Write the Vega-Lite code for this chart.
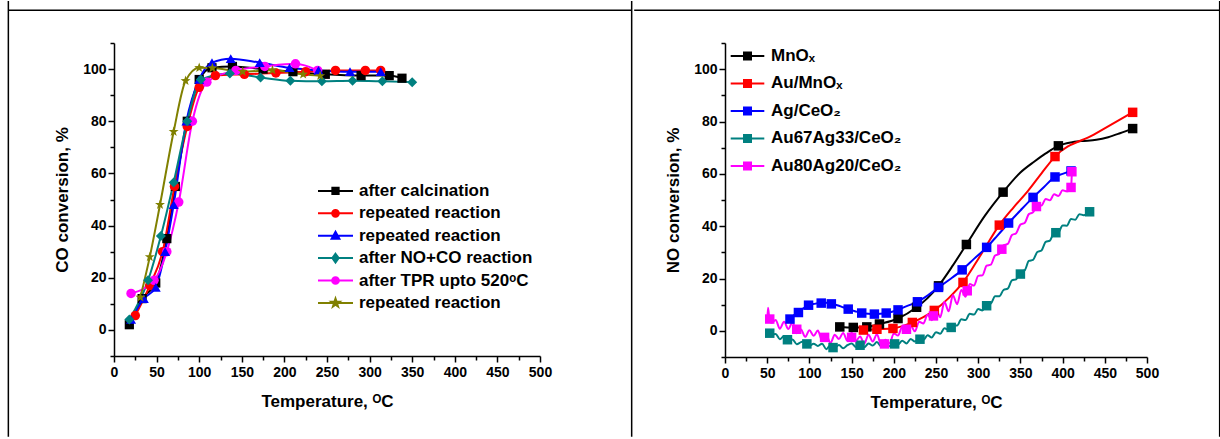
{
"$schema": "https://vega.github.io/schema/vega-lite/v6.json",
"padding": {"left": 7, "top": 0, "right": 0, "bottom": 0},
"spacing": 0,
"background": "white",
"datasets": {
"frameL": [
{"x": -124, "y": 122.58, "x2": 607.6, "y2": 122.58},
{"x": -124, "y": 126.12, "x2": -124, "y2": -40.94},
{"x": 607.6, "y": 126.12, "x2": 607.6, "y2": -40.94}
],
"frameR": [
{"x": -107.6, "y": 122.53, "x2": 586.1, "y2": 122.53},
{"x": 586.1, "y": 126.07, "x2": 586.1, "y2": -40.46}
],
"co": [
{"s":"after calcination","t":18,"v":2},{"s":"after calcination","t":33,"v":12},{"s":"after calcination","t":49,"v":18},{"s":"after calcination","t":62,"v":35},{"s":"after calcination","t":72,"v":55},{"s":"after calcination","t":86,"v":80},{"s":"after calcination","t":100,"v":96},{"s":"after calcination","t":115,"v":100.5},{"s":"after calcination","t":139,"v":101},{"s":"after calcination","t":175,"v":100},{"s":"after calcination","t":210,"v":99},{"s":"after calcination","t":248,"v":98},{"s":"after calcination","t":290,"v":97.5},{"s":"after calcination","t":323,"v":97.5},{"s":"after calcination","t":338,"v":96.5},
{"s":"repeated reaction","t":25,"v":5.5},{"s":"repeated reaction","t":42,"v":17},{"s":"repeated reaction","t":57,"v":30},{"s":"repeated reaction","t":71,"v":55},{"s":"repeated reaction","t":86,"v":78},{"s":"repeated reaction","t":100,"v":93},{"s":"repeated reaction","t":119,"v":97.5},{"s":"repeated reaction","t":153,"v":98},{"s":"repeated reaction","t":190,"v":98.5},{"s":"repeated reaction","t":225,"v":99},{"s":"repeated reaction","t":260,"v":99.5},{"s":"repeated reaction","t":295,"v":99.5},{"s":"repeated reaction","t":313,"v":99.5},
{"s":"repeated reaction ","t":20,"v":4},{"s":"repeated reaction ","t":35,"v":12},{"s":"repeated reaction ","t":49,"v":16.3},{"s":"repeated reaction ","t":60,"v":30},{"s":"repeated reaction ","t":70,"v":48},{"s":"repeated reaction ","t":85,"v":80},{"s":"repeated reaction ","t":100,"v":96},{"s":"repeated reaction ","t":115,"v":102.5},{"s":"repeated reaction ","t":137,"v":104},{"s":"repeated reaction ","t":171,"v":102.5},{"s":"repeated reaction ","t":206,"v":100.5},{"s":"repeated reaction ","t":240,"v":99.5},{"s":"repeated reaction ","t":277,"v":99},{"s":"repeated reaction ","t":313,"v":99},
{"s":"after NO+CO reaction","t":18,"v":4},{"s":"after NO+CO reaction","t":40,"v":19},{"s":"after NO+CO reaction","t":55,"v":36},{"s":"after NO+CO reaction","t":70,"v":56.5},{"s":"after NO+CO reaction","t":86,"v":80},{"s":"after NO+CO reaction","t":102,"v":96},{"s":"after NO+CO reaction","t":136,"v":98.3},{"s":"after NO+CO reaction","t":172,"v":96.8},{"s":"after NO+CO reaction","t":207,"v":95.5},{"s":"after NO+CO reaction","t":244,"v":95.3},{"s":"after NO+CO reaction","t":280,"v":95.5},{"s":"after NO+CO reaction","t":315,"v":95.3},{"s":"after NO+CO reaction","t":350,"v":95},
{"s":"after TPR upto 520ᵒC","t":20,"v":14},{"s":"after TPR upto 520ᵒC","t":47,"v":19},{"s":"after TPR upto 520ᵒC","t":62,"v":30},{"s":"after TPR upto 520ᵒC","t":76,"v":49},{"s":"after TPR upto 520ᵒC","t":92,"v":80},{"s":"after TPR upto 520ᵒC","t":109,"v":95},{"s":"after TPR upto 520ᵒC","t":143,"v":99.5},{"s":"after TPR upto 520ᵒC","t":177,"v":101},{"s":"after TPR upto 520ᵒC","t":213,"v":102},{"s":"after TPR upto 520ᵒC","t":239,"v":99.5},
{"s":"repeated reaction  ","t":31,"v":12.5},{"s":"repeated reaction  ","t":42,"v":28},{"s":"repeated reaction  ","t":54,"v":48},{"s":"repeated reaction  ","t":70,"v":76},{"s":"repeated reaction  ","t":84,"v":95.5},{"s":"repeated reaction  ","t":100,"v":100.5},{"s":"repeated reaction  ","t":115.5,"v":100.4},{"s":"repeated reaction  ","t":151,"v":99},{"s":"repeated reaction  ","t":186,"v":99.6},{"s":"repeated reaction  ","t":222,"v":98},{"s":"repeated reaction  ","t":242,"v":97.4}
],
"noLine": [
{"s":"MnOₓ","t":136,"v":1.5},{"s":"MnOₓ","t":152,"v":1.3},{"s":"MnOₓ","t":168,"v":1.5},{"s":"MnOₓ","t":183,"v":2.6},{"s":"MnOₓ","t":205,"v":4.7},{"s":"MnOₓ","t":227,"v":9},{"s":"MnOₓ","t":240,"v":12.5},{"s":"MnOₓ","t":253,"v":17.2},{"s":"MnOₓ","t":270,"v":25},{"s":"MnOₓ","t":286,"v":33},{"s":"MnOₓ","t":308,"v":44},{"s":"MnOₓ","t":329.5,"v":53},{"s":"MnOₓ","t":350,"v":60.5},{"s":"MnOₓ","t":367,"v":64.8},{"s":"MnOₓ","t":380,"v":67.8},{"s":"MnOₓ","t":395,"v":70.7},{"s":"MnOₓ","t":410,"v":72},{"s":"MnOₓ","t":422,"v":72.5},{"s":"MnOₓ","t":440,"v":73},{"s":"MnOₓ","t":454,"v":74},{"s":"MnOₓ","t":468,"v":75.5},{"s":"MnOₓ","t":483,"v":77.3},
{"s":"Au/MnOₓ","t":160,"v":0},{"s":"Au/MnOₓ","t":164,"v":0.3},{"s":"Au/MnOₓ","t":180,"v":0.6},{"s":"Au/MnOₓ","t":199,"v":0.9},{"s":"Au/MnOₓ","t":210,"v":1.8},{"s":"Au/MnOₓ","t":222,"v":3.2},{"s":"Au/MnOₓ","t":235,"v":5.2},{"s":"Au/MnOₓ","t":248,"v":7.8},{"s":"Au/MnOₓ","t":265,"v":12.5},{"s":"Au/MnOₓ","t":282,"v":18.5},{"s":"Au/MnOₓ","t":303,"v":29},{"s":"Au/MnOₓ","t":325,"v":40.4},{"s":"Au/MnOₓ","t":342,"v":47.2},{"s":"Au/MnOₓ","t":359,"v":53.5},{"s":"Au/MnOₓ","t":375,"v":60.2},{"s":"Au/MnOₓ","t":391,"v":66.6},{"s":"Au/MnOₓ","t":437,"v":75},{"s":"Au/MnOₓ","t":483,"v":83.5},
{"s":"Ag/CeO₂","t":75,"v":3.8},{"s":"Ag/CeO₂","t":77,"v":4.5},{"s":"Ag/CeO₂","t":82,"v":6},{"s":"Ag/CeO₂","t":87,"v":7},{"s":"Ag/CeO₂","t":93,"v":8.6},{"s":"Ag/CeO₂","t":99,"v":9.8},{"s":"Ag/CeO₂","t":106,"v":10.3},{"s":"Ag/CeO₂","t":114,"v":10.6},{"s":"Ag/CeO₂","t":120,"v":10.7},{"s":"Ag/CeO₂","t":126,"v":10.3},{"s":"Ag/CeO₂","t":133,"v":9.8},{"s":"Ag/CeO₂","t":140,"v":9},{"s":"Ag/CeO₂","t":146,"v":8.3},{"s":"Ag/CeO₂","t":154,"v":7.5},{"s":"Ag/CeO₂","t":162,"v":6.8},{"s":"Ag/CeO₂","t":170,"v":6.5},{"s":"Ag/CeO₂","t":177,"v":6.4},{"s":"Ag/CeO₂","t":184,"v":6.5},{"s":"Ag/CeO₂","t":191,"v":6.8},{"s":"Ag/CeO₂","t":198,"v":7.3},{"s":"Ag/CeO₂","t":205,"v":8},{"s":"Ag/CeO₂","t":211,"v":8.9},{"s":"Ag/CeO₂","t":220,"v":10},{"s":"Ag/CeO₂","t":228,"v":11.1},{"s":"Ag/CeO₂","t":240,"v":13.5},{"s":"Ag/CeO₂","t":253,"v":16.6},{"s":"Ag/CeO₂","t":267,"v":19.8},{"s":"Ag/CeO₂","t":281,"v":23.3},{"s":"Ag/CeO₂","t":295,"v":27.5},{"s":"Ag/CeO₂","t":310,"v":31.9},{"s":"Ag/CeO₂","t":323,"v":36.5},{"s":"Ag/CeO₂","t":336,"v":41.2},{"s":"Ag/CeO₂","t":350,"v":46},{"s":"Ag/CeO₂","t":365,"v":51},{"s":"Ag/CeO₂","t":378,"v":55},{"s":"Ag/CeO₂","t":391,"v":58.8},{"s":"Ag/CeO₂","t":400,"v":60},{"s":"Ag/CeO₂","t":410,"v":61.1},
{"s":"Au67Ag33/CeO₂","t":50,"v":0.5},{"s":"Au67Ag33/CeO₂","t":55,"v":-1.4},{"s":"Au67Ag33/CeO₂","t":60,"v":-1.2},{"s":"Au67Ag33/CeO₂","t":65,"v":-3.2},{"s":"Au67Ag33/CeO₂","t":70,"v":-2.0},{"s":"Au67Ag33/CeO₂","t":75,"v":-3.9},{"s":"Au67Ag33/CeO₂","t":80,"v":-3.3},{"s":"Au67Ag33/CeO₂","t":85,"v":-5.1},{"s":"Au67Ag33/CeO₂","t":90,"v":-4.3},{"s":"Au67Ag33/CeO₂","t":95,"v":-3.9},{"s":"Au67Ag33/CeO₂","t":100,"v":-5.8},{"s":"Au67Ag33/CeO₂","t":105,"v":-4.9},{"s":"Au67Ag33/CeO₂","t":110,"v":-5.8},{"s":"Au67Ag33/CeO₂","t":115,"v":-4.9},{"s":"Au67Ag33/CeO₂","t":120,"v":-7.0},{"s":"Au67Ag33/CeO₂","t":125,"v":-5.5},{"s":"Au67Ag33/CeO₂","t":130,"v":-6.4},{"s":"Au67Ag33/CeO₂","t":135,"v":-5.4},{"s":"Au67Ag33/CeO₂","t":140,"v":-6.7},{"s":"Au67Ag33/CeO₂","t":145,"v":-5.5},{"s":"Au67Ag33/CeO₂","t":150,"v":-4.8},{"s":"Au67Ag33/CeO₂","t":155,"v":-6.2},{"s":"Au67Ag33/CeO₂","t":160,"v":-5.1},{"s":"Au67Ag33/CeO₂","t":165,"v":-6.3},{"s":"Au67Ag33/CeO₂","t":170,"v":-4.8},{"s":"Au67Ag33/CeO₂","t":175,"v":-5.6},{"s":"Au67Ag33/CeO₂","t":180,"v":-4.3},{"s":"Au67Ag33/CeO₂","t":185,"v":-5.9},{"s":"Au67Ag33/CeO₂","t":190,"v":-4.6},{"s":"Au67Ag33/CeO₂","t":195,"v":-5.9},{"s":"Au67Ag33/CeO₂","t":200,"v":-4.4},{"s":"Au67Ag33/CeO₂","t":205,"v":-5.2},{"s":"Au67Ag33/CeO₂","t":210,"v":-3.8},{"s":"Au67Ag33/CeO₂","t":215,"v":-4.8},{"s":"Au67Ag33/CeO₂","t":220,"v":-3.1},{"s":"Au67Ag33/CeO₂","t":225,"v":-4.1},{"s":"Au67Ag33/CeO₂","t":230,"v":-3.0},{"s":"Au67Ag33/CeO₂","t":235,"v":-3.5},{"s":"Au67Ag33/CeO₂","t":240,"v":-1.7},{"s":"Au67Ag33/CeO₂","t":245,"v":-2.5},{"s":"Au67Ag33/CeO₂","t":250,"v":-0.5},{"s":"Au67Ag33/CeO₂","t":255,"v":-1.1},{"s":"Au67Ag33/CeO₂","t":260,"v":1.0},{"s":"Au67Ag33/CeO₂","t":265,"v":0.4},{"s":"Au67Ag33/CeO₂","t":270,"v":2.3},{"s":"Au67Ag33/CeO₂","t":275,"v":2.0},{"s":"Au67Ag33/CeO₂","t":280,"v":4.4},{"s":"Au67Ag33/CeO₂","t":285,"v":4.1},{"s":"Au67Ag33/CeO₂","t":290,"v":6.5},{"s":"Au67Ag33/CeO₂","t":295,"v":6.2},{"s":"Au67Ag33/CeO₂","t":300,"v":8.3},{"s":"Au67Ag33/CeO₂","t":305,"v":7.8},{"s":"Au67Ag33/CeO₂","t":310,"v":10.1},{"s":"Au67Ag33/CeO₂","t":315,"v":10.4},{"s":"Au67Ag33/CeO₂","t":320,"v":13.2},{"s":"Au67Ag33/CeO₂","t":325,"v":13.2},{"s":"Au67Ag33/CeO₂","t":330,"v":15.6},{"s":"Au67Ag33/CeO₂","t":335,"v":16.1},{"s":"Au67Ag33/CeO₂","t":340,"v":19.3},{"s":"Au67Ag33/CeO₂","t":345,"v":19.7},{"s":"Au67Ag33/CeO₂","t":350,"v":22.6},{"s":"Au67Ag33/CeO₂","t":355,"v":23.1},{"s":"Au67Ag33/CeO₂","t":360,"v":26.7},{"s":"Au67Ag33/CeO₂","t":365,"v":27.1},{"s":"Au67Ag33/CeO₂","t":370,"v":30.1},{"s":"Au67Ag33/CeO₂","t":375,"v":30.7},{"s":"Au67Ag33/CeO₂","t":380,"v":34.0},{"s":"Au67Ag33/CeO₂","t":385,"v":34.5},{"s":"Au67Ag33/CeO₂","t":390,"v":37.5},{"s":"Au67Ag33/CeO₂","t":395,"v":37.6},{"s":"Au67Ag33/CeO₂","t":400,"v":40.3},{"s":"Au67Ag33/CeO₂","t":405,"v":40.2},{"s":"Au67Ag33/CeO₂","t":410,"v":42.7},{"s":"Au67Ag33/CeO₂","t":415,"v":42.5},{"s":"Au67Ag33/CeO₂","t":420,"v":44.6},{"s":"Au67Ag33/CeO₂","t":425,"v":44.2},{"s":"Au67Ag33/CeO₂","t":432,"v":45.5},
{"s":"Au80Ag20/CeO₂","t":50,"v":4.0},{"s":"Au80Ag20/CeO₂","t":51,"v":8.8},{"s":"Au80Ag20/CeO₂","t":53,"v":3.5},{"s":"Au80Ag20/CeO₂","t":55,"v":3.1},{"s":"Au80Ag20/CeO₂","t":60,"v":4.1},{"s":"Au80Ag20/CeO₂","t":65,"v":0.8},{"s":"Au80Ag20/CeO₂","t":70,"v":3.5},{"s":"Au80Ag20/CeO₂","t":75,"v":0.7},{"s":"Au80Ag20/CeO₂","t":80,"v":3.3},{"s":"Au80Ag20/CeO₂","t":85,"v":-0.9},{"s":"Au80Ag20/CeO₂","t":90,"v":0.5},{"s":"Au80Ag20/CeO₂","t":95,"v":-2.3},{"s":"Au80Ag20/CeO₂","t":100,"v":0.2},{"s":"Au80Ag20/CeO₂","t":105,"v":-1.9},{"s":"Au80Ag20/CeO₂","t":110,"v":0.1},{"s":"Au80Ag20/CeO₂","t":115,"v":-3.7},{"s":"Au80Ag20/CeO₂","t":120,"v":-1.7},{"s":"Au80Ag20/CeO₂","t":125,"v":-4.6},{"s":"Au80Ag20/CeO₂","t":130,"v":-1.5},{"s":"Au80Ag20/CeO₂","t":135,"v":-3.1},{"s":"Au80Ag20/CeO₂","t":140,"v":-0.8},{"s":"Au80Ag20/CeO₂","t":145,"v":-3.8},{"s":"Au80Ag20/CeO₂","t":150,"v":-0.7},{"s":"Au80Ag20/CeO₂","t":155,"v":-3.8},{"s":"Au80Ag20/CeO₂","t":160,"v":-2.2},{"s":"Au80Ag20/CeO₂","t":165,"v":-4.9},{"s":"Au80Ag20/CeO₂","t":170,"v":-1.5},{"s":"Au80Ag20/CeO₂","t":175,"v":-4.1},{"s":"Au80Ag20/CeO₂","t":180,"v":-1.3},{"s":"Au80Ag20/CeO₂","t":185,"v":-5.3},{"s":"Au80Ag20/CeO₂","t":190,"v":-3.4},{"s":"Au80Ag20/CeO₂","t":195,"v":-4.8},{"s":"Au80Ag20/CeO₂","t":200,"v":-1.0},{"s":"Au80Ag20/CeO₂","t":205,"v":-1.8},{"s":"Au80Ag20/CeO₂","t":210,"v":1.6},{"s":"Au80Ag20/CeO₂","t":215,"v":-0.8},{"s":"Au80Ag20/CeO₂","t":220,"v":2.0},{"s":"Au80Ag20/CeO₂","t":225,"v":-0.2},{"s":"Au80Ag20/CeO₂","t":230,"v":3.5},{"s":"Au80Ag20/CeO₂","t":235,"v":2.8},{"s":"Au80Ag20/CeO₂","t":240,"v":6.1},{"s":"Au80Ag20/CeO₂","t":245,"v":4.0},{"s":"Au80Ag20/CeO₂","t":250,"v":8.2},{"s":"Au80Ag20/CeO₂","t":255,"v":5.2},{"s":"Au80Ag20/CeO₂","t":260,"v":11.0},{"s":"Au80Ag20/CeO₂","t":265,"v":7.5},{"s":"Au80Ag20/CeO₂","t":270,"v":13.6},{"s":"Au80Ag20/CeO₂","t":275,"v":10.2},{"s":"Au80Ag20/CeO₂","t":280,"v":15.6},{"s":"Au80Ag20/CeO₂","t":285,"v":13.0},{"s":"Au80Ag20/CeO₂","t":290,"v":17.9},{"s":"Au80Ag20/CeO₂","t":295,"v":17.3},{"s":"Au80Ag20/CeO₂","t":300,"v":21.0},{"s":"Au80Ag20/CeO₂","t":305,"v":21.2},{"s":"Au80Ag20/CeO₂","t":310,"v":24.9},{"s":"Au80Ag20/CeO₂","t":315,"v":25.3},{"s":"Au80Ag20/CeO₂","t":320,"v":28.8},{"s":"Au80Ag20/CeO₂","t":325,"v":29.4},{"s":"Au80Ag20/CeO₂","t":330,"v":32.7},{"s":"Au80Ag20/CeO₂","t":335,"v":33.2},{"s":"Au80Ag20/CeO₂","t":340,"v":36.6},{"s":"Au80Ag20/CeO₂","t":345,"v":37.3},{"s":"Au80Ag20/CeO₂","t":350,"v":40.6},{"s":"Au80Ag20/CeO₂","t":355,"v":41.2},{"s":"Au80Ag20/CeO₂","t":360,"v":44.6},{"s":"Au80Ag20/CeO₂","t":365,"v":45.3},{"s":"Au80Ag20/CeO₂","t":370,"v":48.2},{"s":"Au80Ag20/CeO₂","t":375,"v":47.9},{"s":"Au80Ag20/CeO₂","t":380,"v":50.4},{"s":"Au80Ag20/CeO₂","t":385,"v":49.9},{"s":"Au80Ag20/CeO₂","t":390,"v":52.2},{"s":"Au80Ag20/CeO₂","t":395,"v":51.5},{"s":"Au80Ag20/CeO₂","t":400,"v":53.7},{"s":"Au80Ag20/CeO₂","t":405,"v":53.3},{"s":"Au80Ag20/CeO₂","t":410,"v":54.8},{"s":"Au80Ag20/CeO₂","t":411,"v":60.8}
],
"noMark": [
{"s":"MnOₓ","t":136,"v":1.5},{"s":"MnOₓ","t":152,"v":1.3},{"s":"MnOₓ","t":168,"v":1.5},{"s":"MnOₓ","t":183,"v":2.6},{"s":"MnOₓ","t":205,"v":4.7},{"s":"MnOₓ","t":227,"v":9},{"s":"MnOₓ","t":253,"v":17.2},{"s":"MnOₓ","t":286,"v":33},{"s":"MnOₓ","t":329.5,"v":53},{"s":"MnOₓ","t":395,"v":70.7},{"s":"MnOₓ","t":483,"v":77.3},
{"s":"Au/MnOₓ","t":164,"v":0.3},{"s":"Au/MnOₓ","t":180,"v":0.6},{"s":"Au/MnOₓ","t":199,"v":0.9},{"s":"Au/MnOₓ","t":222,"v":3.2},{"s":"Au/MnOₓ","t":248,"v":7.8},{"s":"Au/MnOₓ","t":282,"v":18.5},{"s":"Au/MnOₓ","t":325,"v":40.4},{"s":"Au/MnOₓ","t":391,"v":66.6},{"s":"Au/MnOₓ","t":483,"v":83.5},
{"s":"Ag/CeO₂","t":77,"v":4.5},{"s":"Ag/CeO₂","t":87,"v":7},{"s":"Ag/CeO₂","t":99,"v":9.8},{"s":"Ag/CeO₂","t":114,"v":10.6},{"s":"Ag/CeO₂","t":126,"v":10.3},{"s":"Ag/CeO₂","t":146,"v":8.3},{"s":"Ag/CeO₂","t":162,"v":6.8},{"s":"Ag/CeO₂","t":177,"v":6.4},{"s":"Ag/CeO₂","t":191,"v":6.8},{"s":"Ag/CeO₂","t":205,"v":8},{"s":"Ag/CeO₂","t":228,"v":11.1},{"s":"Ag/CeO₂","t":253,"v":16.6},{"s":"Ag/CeO₂","t":281,"v":23.3},{"s":"Ag/CeO₂","t":310,"v":31.9},{"s":"Ag/CeO₂","t":336,"v":41.2},{"s":"Ag/CeO₂","t":365,"v":51},{"s":"Ag/CeO₂","t":391,"v":58.8},{"s":"Ag/CeO₂","t":410,"v":61.1},
{"s":"Au67Ag33/CeO₂","t":53,"v":-0.9},{"s":"Au67Ag33/CeO₂","t":74,"v":-3.4},{"s":"Au67Ag33/CeO₂","t":97,"v":-5},{"s":"Au67Ag33/CeO₂","t":128,"v":-6.4},{"s":"Au67Ag33/CeO₂","t":160,"v":-5.5},{"s":"Au67Ag33/CeO₂","t":201,"v":-5},{"s":"Au67Ag33/CeO₂","t":231,"v":-3.2},{"s":"Au67Ag33/CeO₂","t":268,"v":1.3},{"s":"Au67Ag33/CeO₂","t":310,"v":9.6},{"s":"Au67Ag33/CeO₂","t":350,"v":21.7},{"s":"Au67Ag33/CeO₂","t":392,"v":37.5},{"s":"Au67Ag33/CeO₂","t":432,"v":45.5},
{"s":"Au80Ag20/CeO₂","t":53,"v":4.5},{"s":"Au80Ag20/CeO₂","t":85,"v":0.6},{"s":"Au80Ag20/CeO₂","t":118,"v":-2.5},{"s":"Au80Ag20/CeO₂","t":150,"v":-2.5},{"s":"Au80Ag20/CeO₂","t":189,"v":-5},{"s":"Au80Ag20/CeO₂","t":215,"v":0.6},{"s":"Au80Ag20/CeO₂","t":247,"v":5.7},{"s":"Au80Ag20/CeO₂","t":287,"v":15.3},{"s":"Au80Ag20/CeO₂","t":328,"v":31.2},{"s":"Au80Ag20/CeO₂","t":369,"v":47.5},{"s":"Au80Ag20/CeO₂","t":410,"v":54.8},{"s":"Au80Ag20/CeO₂","t":411,"v":60.8}
]
},
"hconcat": [
{
"width": 426, "height": 313,
"layer": [
{
"data": {"name": "frameL"},
"mark": {"type": "rule", "color": "black", "strokeWidth": 1.5},
"encoding": {
"x": {"field": "x", "type": "quantitative", "scale": {"domain": [0, 500], "nice": false, "zero": false}, "axis": {"orient": "bottom", "values": [25,75,125,175,225,275,325,375,425,475], "tickSize": 4, "labels": false, "domain": false, "title": null}},
"x2": {"field": "x2"},
"y": {"field": "y", "type": "quantitative", "scale": {"domain": [-10, 110], "nice": false, "zero": false}, "axis": {"orient": "left", "values": [-10,10,30,50,70,90,110], "tickSize": 4, "labels": false, "domain": false, "title": null}},
"y2": {"field": "y2"}
}
},
{
"data": {"name": "co"},
"mark": {"type": "line", "interpolate": "monotone", "strokeWidth": 2},
"encoding": {
"x": {"field": "t", "type": "quantitative", "scale": {"domain": [0, 500], "nice": false, "zero": false}, "axis": {"orient": "bottom", "values": [0,50,100,150,200,250,300,350,400,450,500], "tickSize": 6, "labelPadding": 3, "title": "Temperature, ᴼC", "titlePadding": 14}},
"y": {"field": "v", "type": "quantitative", "scale": {"domain": [-10, 110], "nice": false, "zero": false}, "axis": {"orient": "left", "values": [0,20,40,60,80,100], "tickSize": 6, "labelPadding": 2, "title": "CO conversion, %", "titlePadding": 11}},
"color": {"field": "s", "type": "nominal", "scale": {"domain": ["after calcination","repeated reaction","repeated reaction ","after NO+CO reaction","after TPR upto 520ᵒC","repeated reaction  "], "range": ["#000000","#ff0000","#0000ff","#008080","#ff00ff","#808000"]},
"legend": {"orient": "none", "legendX": 213, "legendY": 139.4, "title": null, "rowPadding": 4.4, "symbolStrokeWidth": 2}}
}
},
{
"data": {"name": "co"},
"transform": [{"filter": "datum.s == 'after calcination'"}],
"mark": {"type": "point", "filled": true, "size": 85, "opacity": 1, "shape": "square"},
"encoding": {
"x": {"field": "t", "type": "quantitative", "axis": null},
"y": {"field": "v", "type": "quantitative", "axis": null},
"color": {"field": "s", "type": "nominal", "legend": {"orient": "none", "legendX": 213, "legendY": 139.4, "title": null, "rowPadding": 4.4, "symbolStrokeWidth": 2}}
}
},
{
"data": {"name": "co"},
"transform": [{"filter": "datum.s == 'repeated reaction' || datum.s == 'after TPR upto 520ᵒC'"}],
"mark": {"type": "point", "filled": true, "size": 90, "opacity": 1, "shape": "circle"},
"encoding": {
"x": {"field": "t", "type": "quantitative", "axis": null},
"y": {"field": "v", "type": "quantitative", "axis": null},
"color": {"field": "s", "type": "nominal", "legend": {"orient": "none", "legendX": 213, "legendY": 139.4, "title": null, "rowPadding": 4.4, "symbolStrokeWidth": 2}}
}
},
{
"data": {"name": "co"},
"transform": [{"filter": "datum.s == 'repeated reaction '"}],
"mark": {"type": "point", "filled": true, "size": 100, "opacity": 1, "shape": "triangle-up"},
"encoding": {
"x": {"field": "t", "type": "quantitative", "axis": null},
"y": {"field": "v", "type": "quantitative", "axis": null},
"color": {"field": "s", "type": "nominal", "legend": {"orient": "none", "legendX": 213, "legendY": 139.4, "title": null, "rowPadding": 4.4, "symbolStrokeWidth": 2}}
}
},
{
"data": {"name": "co"},
"transform": [{"filter": "datum.s == 'after NO+CO reaction'"}],
"mark": {"type": "point", "filled": true, "size": 100, "opacity": 1, "shape": "diamond"},
"encoding": {
"x": {"field": "t", "type": "quantitative", "axis": null},
"y": {"field": "v", "type": "quantitative", "axis": null},
"color": {"field": "s", "type": "nominal", "legend": {"orient": "none", "legendX": 213, "legendY": 139.4, "title": null, "rowPadding": 4.4, "symbolStrokeWidth": 2}}
}
},
{
"data": {"name": "co"},
"transform": [{"filter": "datum.s == 'repeated reaction  '"}],
"mark": {"type": "point", "filled": true, "size": 110, "opacity": 1, "shape": "M0,-1L0.235,-0.324L0.951,-0.309L0.38,0.124L0.588,0.809L0,0.4L-0.588,0.809L-0.38,0.124L-0.951,-0.309L-0.235,-0.324Z"},
"encoding": {
"x": {"field": "t", "type": "quantitative", "axis": null},
"y": {"field": "v", "type": "quantitative", "axis": null},
"color": {"field": "s", "type": "nominal", "legend": {"orient": "none", "legendX": 213, "legendY": 139.4, "title": null, "rowPadding": 4.4, "symbolStrokeWidth": 2}}
}
},
{
"data": {"name": "co"},
"mark": {"type": "point", "filled": true, "size": 10, "opacity": 0},
"encoding": {
"x": {"field": "t", "type": "quantitative", "axis": null},
"y": {"field": "v", "type": "quantitative", "axis": null},
"color": {"field": "s", "type": "nominal", "legend": {"orient": "none", "legendX": 213, "legendY": 139.4, "title": null, "rowPadding": 4.4, "symbolStrokeWidth": 2}},
"shape": {"field": "s", "type": "nominal", "scale": {"domain": ["after calcination","repeated reaction","repeated reaction ","after NO+CO reaction","after TPR upto 520ᵒC","repeated reaction  "], "range": ["M-2.5,0H2.5M-0.45,-0.45H0.45V0.45H-0.45Z","M-2.5,0H2.5M-0.48,0A0.48,0.48,0,1,1,0.48,0A0.48,0.48,0,1,1,-0.48,0Z","M-2.5,0H2.5M0,-0.55L0.55,0.42L-0.55,0.42Z","M-2.5,0H2.5M0,-0.62L0.45,0L0,0.62L-0.45,0Z","M-2.5,0H2.5M-0.48,0A0.48,0.48,0,1,1,0.48,0A0.48,0.48,0,1,1,-0.48,0Z","M-2.5,0H2.5M0,-0.62L0.15,-0.2L0.59,-0.19L0.23,0.08L0.36,0.5L0,0.25L-0.36,0.5L-0.23,0.08L-0.59,-0.19L-0.15,-0.2Z"]},
"legend": {"orient": "none", "legendX": 213, "legendY": 139.4, "title": null, "rowPadding": 4.4, "symbolStrokeWidth": 2}}
}
}
],
"resolve": {"axis": {"x": "independent", "y": "independent"}}
},
{
"width": 422, "height": 314,
"layer": [
{
"data": {"name": "frameR"},
"mark": {"type": "rule", "color": "black", "strokeWidth": 1.5},
"encoding": {
"x": {"field": "x", "type": "quantitative", "scale": {"domain": [0, 500], "nice": false, "zero": false}, "axis": {"orient": "bottom", "values": [25,75,125,175,225,275,325,375,425,475], "tickSize": 4, "labels": false, "domain": false, "title": null}},
"x2": {"field": "x2"},
"y": {"field": "y", "type": "quantitative", "scale": {"domain": [-10, 110], "nice": false, "zero": false}, "axis": {"orient": "left", "values": [-10,10,30,50,70,90,110], "tickSize": 4, "labels": false, "domain": false, "title": null}},
"y2": {"field": "y2"}
}
},
{
"data": {"name": "noLine"},
"mark": {"type": "line", "interpolate": "monotone", "strokeWidth": 2},
"encoding": {
"x": {"field": "t", "type": "quantitative", "scale": {"domain": [0, 500], "nice": false, "zero": false}, "axis": {"orient": "bottom", "values": [0,50,100,150,200,250,300,350,400,450,500], "tickSize": 6, "labelPadding": 3, "title": "Temperature, ᴼC", "titlePadding": 14}},
"y": {"field": "v", "type": "quantitative", "scale": {"domain": [-10, 110], "nice": false, "zero": false}, "axis": {"orient": "left", "values": [0,20,40,60,80,100], "tickSize": 6, "labelPadding": 2, "title": "NO conversion, %", "titlePadding": 11}},
"color": {"field": "s", "type": "nominal", "scale": {"domain": ["MnOₓ","Au/MnOₓ","Ag/CeO₂","Au67Ag33/CeO₂","Au80Ag20/CeO₂"], "range": ["#000000","#ff0000","#0000ff","#008080","#ff00ff"]},
"legend": {"orient": "none", "legendX": 14, "legendY": 4.4, "title": null, "rowPadding": 9.5, "symbolStrokeWidth": 2, "symbolType": "M-2.4,0H2.4M-0.5,-0.5H0.5V0.5H-0.5Z"}}
}
},
{
"data": {"name": "noMark"},
"mark": {"type": "point", "filled": true, "size": 90, "opacity": 1, "shape": "square"},
"encoding": {
"x": {"field": "t", "type": "quantitative", "axis": null},
"y": {"field": "v", "type": "quantitative", "axis": null},
"color": {"field": "s", "type": "nominal",
"legend": {"orient": "none", "legendX": 14, "legendY": 4.4, "title": null, "rowPadding": 9.5, "symbolStrokeWidth": 2, "symbolType": "M-2.4,0H2.4M-0.5,-0.5H0.5V0.5H-0.5Z"}}
}
}
],
"resolve": {"axis": {"x": "independent", "y": "independent"}}
}
],
"resolve": {"scale": {"color": "independent", "shape": "independent"}, "legend": {"color": "independent", "shape": "independent"}},
"config": {
"view": {"stroke": null},
"font": "Liberation Sans",
"axis": {"grid": false, "domainColor": "black", "domainWidth": 1.5, "tickColor": "black", "tickWidth": 1.5, "labelFont": "Liberation Sans", "labelFontSize": 14, "labelFontWeight": "bold", "labelColor": "black", "titleFont": "Liberation Sans", "titleFontSize": 17, "titleFontWeight": "bold", "titleColor": "black", "labelFlush": false, "labelOverlap": false},
"legend": {"labelFont": "Liberation Sans", "labelFontSize": 17, "labelFontWeight": "bold", "labelColor": "black", "labelLimit": 300, "symbolSize": 196, "labelOffset": 15, "padding": 0, "symbolOpacity": 1}
}
}
